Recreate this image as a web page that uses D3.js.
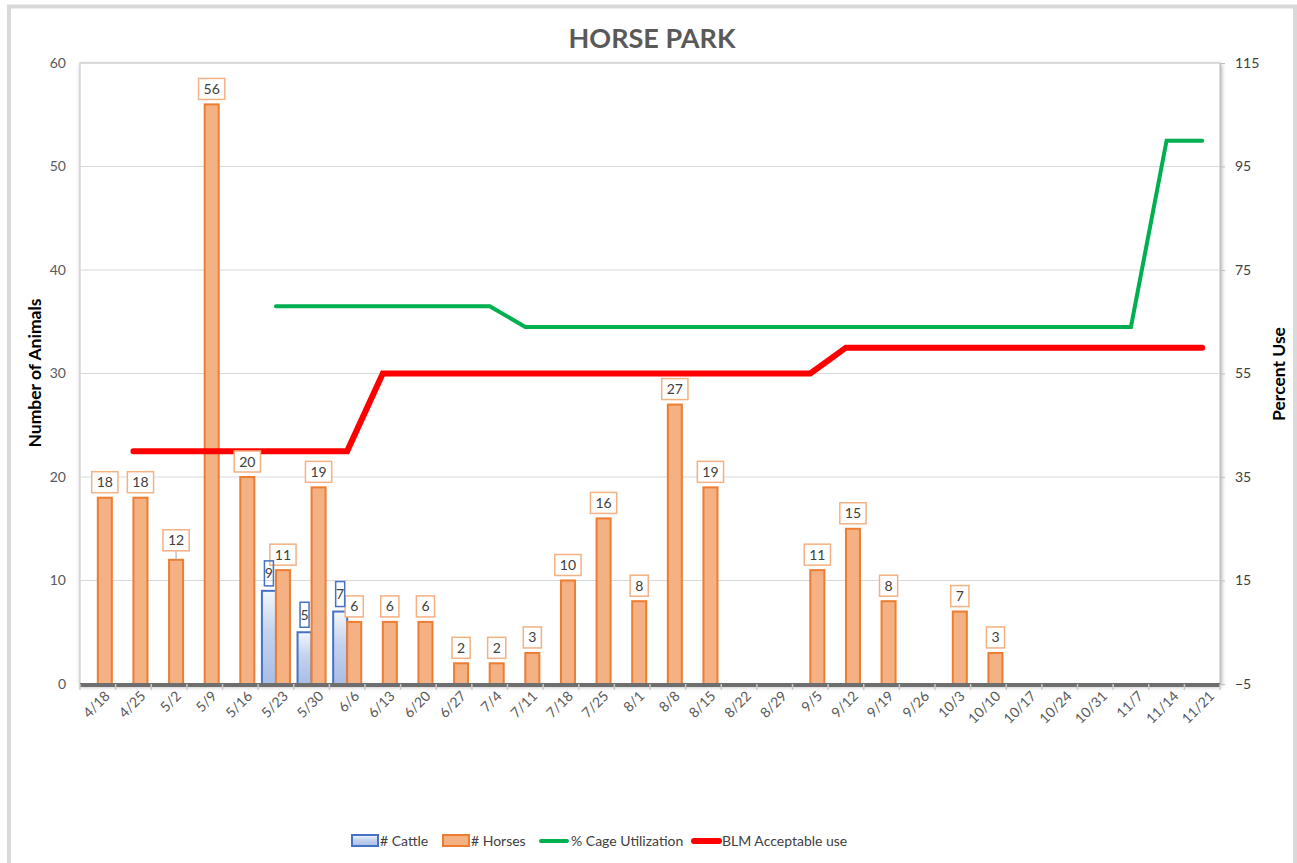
<!DOCTYPE html>
<html>
<head>
<meta charset="utf-8">
<script src="https://cdn.jsdelivr.net/npm/d3@7"></script>
<style>
  body { margin: 0; background: #fff; }
  text { font-family: Lato, "Open Sans", sans-serif; }
</style>
</head>
<body>
<div id="chart"></div>
<script>
// data
var weeks = ["4/18","4/25","5/2","5/9","5/16","5/23","5/30","6/6","6/13","6/20","6/27","7/4","7/11",
  "7/18","7/25","8/1","8/8","8/15","8/22","8/29","9/5","9/12","9/19","9/26","10/3","10/10",
  "10/17","10/24","10/31","11/7","11/14","11/21"];
var horses = [18,18,12,56,20,11,19,6,6,6,2,2,3,10,16,8,27,19,null,null,11,15,8,null,7,3,
  null,null,null,null,null,null];
var cattle = [null,null,null,null,null,9,5,7,null,null,null,null,null,null,null,null,null,null,
  null,null,null,null,null,null,null,null,null,null,null,null,null,null];
var cageUse = [null,null,null,null,null,68,68,68,68,68,68,68,64,64,64,64,64,64,64,64,64,64,64,64,
  64,64,64,64,64,64,100,100];
var blmUse = [null,40,40,40,40,40,40,40,55,55,55,55,55,55,55,55,55,55,55,55,55,60,60,60,60,60,
  60,60,60,60,60,60];
var leftTicks = [0,10,20,30,40,50,60];
var rightTicks = [-5,15,35,55,75,95,115];

var svgWidth = 1297;
var svgHeight = 863;
var plot = { left: 80, right: 1220, top: 63, bottom: 684 };

var svg = d3.select("#chart").append("svg")
  .attr("width", svgWidth)
  .attr("height", svgHeight);

var defs = svg.append("defs");
var grad = defs.append("linearGradient").attr("id", "cattleFill")
  .attr("x1", 0).attr("y1", 0).attr("x2", 0).attr("y2", 1);
grad.append("stop").attr("offset", "0%").attr("stop-color", "#f4f7fc");
grad.append("stop").attr("offset", "45%").attr("stop-color", "#c3d2ee");
grad.append("stop").attr("offset", "100%").attr("stop-color", "#a9bee6");
var shadow = defs.append("filter").attr("id", "shadow")
  .attr("x", "-5%").attr("y", "-5%").attr("width", "110%").attr("height", "110%");
shadow.append("feDropShadow").attr("dx", 1).attr("dy", 2).attr("stdDeviation", 2)
  .attr("flood-color", "#000").attr("flood-opacity", 0.35);

// outer frame
svg.append("rect")
  .attr("x", 9).attr("y", 6.5).attr("width", 1286).attr("height", 900)
  .attr("fill", "#fff").attr("stroke", "#d9d9d9").attr("stroke-width", 4);

// title
svg.append("text")
  .attr("x", 652).attr("y", 48)
  .attr("text-anchor", "middle")
  .attr("font-size", 27).attr("font-weight", "bold")
  .attr("fill", "#595959")
  .text("HORSE PARK");

// scales
var x = d3.scaleBand().domain(weeks).range([plot.left, plot.right]).padding(0);
var xSub = d3.scaleBand().domain(["cattle", "horses"]).range([0, x.bandwidth()])
  .paddingInner(0).paddingOuter(0.27);
var y = d3.scaleLinear().domain([0, 60]).range([plot.bottom, plot.top]);
var y2 = d3.scaleLinear().domain([-5, 115]).range([plot.bottom, plot.top]);

// plot area with shadow
svg.append("rect")
  .attr("x", plot.left).attr("y", plot.top)
  .attr("width", plot.right - plot.left).attr("height", plot.bottom - plot.top)
  .attr("fill", "#fff").attr("stroke", "#bfbfbf").attr("stroke-width", 1)
  .attr("filter", "url(#shadow)");

// gridlines
svg.append("g").selectAll("line")
  .data(leftTicks.filter(d => d > 0))
  .enter().append("line")
  .attr("x1", plot.left).attr("x2", plot.right)
  .attr("y1", d => y(d)).attr("y2", d => y(d))
  .attr("stroke", "#d9d9d9").attr("stroke-width", 1);

// left axis
var leftAxis = svg.append("g")
  .attr("transform", `translate(${plot.left}, 0)`)
  .call(d3.axisLeft(y).tickValues(leftTicks).tickSize(0).tickPadding(14));
leftAxis.select(".domain").remove();
leftAxis.selectAll("text").attr("font-size", 14).attr("fill", "#595959")
  .attr("font-family", "Lato, sans-serif");

// right axis
var rightAxis = svg.append("g")
  .attr("transform", `translate(${plot.right}, 0)`)
  .call(d3.axisRight(y2).tickValues(rightTicks).tickSize(5).tickPadding(10));
rightAxis.select(".domain").attr("stroke", "#bfbfbf");
rightAxis.selectAll(".tick line").attr("stroke", "#bfbfbf");
rightAxis.selectAll("text").attr("font-size", 14).attr("fill", "#404040")
  .attr("font-family", "Lato, sans-serif");

// bars
svg.append("g").selectAll("rect")
  .data(weeks.map((w, i) => ({ w: w, v: cattle[i] })).filter(d => d.v != null))
  .enter().append("rect")
  .attr("x", d => x(d.w) + xSub("cattle"))
  .attr("y", d => y(d.v))
  .attr("width", xSub.bandwidth())
  .attr("height", d => y(0) - y(d.v))
  .attr("fill", "url(#cattleFill)")
  .attr("stroke", "#4472c4").attr("stroke-width", 2);

svg.append("g").selectAll("rect")
  .data(weeks.map((w, i) => ({ w: w, v: horses[i] })).filter(d => d.v != null))
  .enter().append("rect")
  .attr("x", d => x(d.w) + xSub("horses"))
  .attr("y", d => y(d.v))
  .attr("width", xSub.bandwidth())
  .attr("height", d => y(0) - y(d.v))
  .attr("fill", "#f4b183")
  .attr("stroke", "#ed7d31").attr("stroke-width", 2);

// x axis
svg.append("line")
  .attr("x1", plot.left).attr("x2", plot.right)
  .attr("y1", plot.bottom + 1).attr("y2", plot.bottom + 1)
  .attr("stroke", "#6e6e6e").attr("stroke-width", 4);
svg.append("g").selectAll("line")
  .data(d3.range(weeks.length + 1))
  .enter().append("line")
  .attr("x1", i => plot.left + i * x.step()).attr("x2", i => plot.left + i * x.step())
  .attr("y1", plot.bottom).attr("y2", plot.bottom + 6)
  .attr("stroke", "#c8c8c8").attr("stroke-width", 1.5);

svg.append("g").selectAll("text")
  .data(weeks)
  .enter().append("text")
  .attr("transform", d => `translate(${x(d) + x.bandwidth() / 2 + 13}, ${plot.bottom + 13}) rotate(-45)`)
  .attr("text-anchor", "end")
  .attr("font-size", 14)
  .attr("fill", "#595959")
  .text(d => d);

// lines
function drawLine(values, color, width) {
  var pts = weeks.map((w, i) => ({ w: w, v: values[i] })).filter(d => d.v != null);
  var line = d3.line()
    .x(d => x(d.w) + x.bandwidth() / 2)
    .y(d => y2(d.v));
  svg.append("path")
    .datum(pts)
    .attr("d", line)
    .attr("fill", "none")
    .attr("stroke", color)
    .attr("stroke-width", width)
    .attr("stroke-linecap", "round")
    .attr("stroke-linejoin", "miter");
}
drawLine(cageUse, "#00b050", 4);
drawLine(blmUse, "#ff0000", 6);

// data labels
var labelFont = 14;
function addLabel(cx, top, txt, color, fixedW, h, lift) {
  var g = svg.append("g");
  var bottom = top - 5 - (lift || 0);
  if (lift) {
    g.append("line").attr("x1", cx).attr("x2", cx)
      .attr("y1", bottom).attr("y2", top)
      .attr("stroke", "#a6a6a6").attr("stroke-width", 1);
  }
  var box = g.append("rect");
  var t = g.append("text")
    .attr("x", cx).attr("y", bottom - h / 2 + 5)
    .attr("text-anchor", "middle")
    .attr("font-size", labelFont)
    .attr("fill", "#404040")
    .text(txt);
  var w = fixedW || t.node().getComputedTextLength() + 10;
  box.attr("x", cx - w / 2).attr("y", bottom - h)
    .attr("width", w).attr("height", h)
    .attr("fill", fixedW ? "none" : "#fff")
    .attr("stroke", color).attr("stroke-width", 1.5);
}
weeks.forEach(function(w, i) {
  if (horses[i] != null) {
    var lift = (w === "5/2") ? 4 : 0;
    addLabel(x(w) + xSub("horses") + xSub.bandwidth() / 2, y(horses[i]), horses[i], "#f4b183", null, 21, lift);
  }
  if (cattle[i] != null) {
    addLabel(x(w) + xSub("cattle") + xSub.bandwidth() / 2, y(cattle[i]), cattle[i], "#4472c4", 9, 25, 0);
  }
});

// axis titles
svg.append("text")
  .attr("transform", "translate(41, 373) rotate(-90)")
  .attr("text-anchor", "middle")
  .attr("font-size", 17.5).attr("font-weight", "bold").attr("fill", "#000")
  .text("Number of Animals");
svg.append("text")
  .attr("transform", "translate(1285, 374) rotate(-90)")
  .attr("text-anchor", "middle")
  .attr("font-size", 17.5).attr("font-weight", "bold").attr("fill", "#000")
  .text("Percent Use");

// legend
var legend = svg.append("g").attr("transform", "translate(0, 841)");
legend.append("rect").attr("x", 352).attr("y", -6).attr("width", 26).attr("height", 11)
  .attr("fill", "url(#cattleFill)").attr("stroke", "#4472c4").attr("stroke-width", 2);
legend.append("text").attr("x", 380).attr("y", 5).attr("font-size", 14).attr("fill", "#404040")
  .text("# Cattle");
legend.append("rect").attr("x", 443).attr("y", -6).attr("width", 26).attr("height", 11)
  .attr("fill", "#f4b183").attr("stroke", "#ed7d31").attr("stroke-width", 2);
legend.append("text").attr("x", 471).attr("y", 5).attr("font-size", 14).attr("fill", "#404040")
  .text("# Horses");
legend.append("line").attr("x1", 541).attr("x2", 567).attr("y1", 0).attr("y2", 0)
  .attr("stroke", "#00b050").attr("stroke-width", 4).attr("stroke-linecap", "round");
legend.append("text").attr("x", 571).attr("y", 5).attr("font-size", 14).attr("fill", "#404040")
  .text("% Cage Utilization");
legend.append("line").attr("x1", 694).attr("x2", 719).attr("y1", 0).attr("y2", 0)
  .attr("stroke", "#ff0000").attr("stroke-width", 6).attr("stroke-linecap", "round");
legend.append("text").attr("x", 722).attr("y", 5).attr("font-size", 14).attr("fill", "#404040")
  .text("BLM Acceptable use");
</script>
</body>
</html>
